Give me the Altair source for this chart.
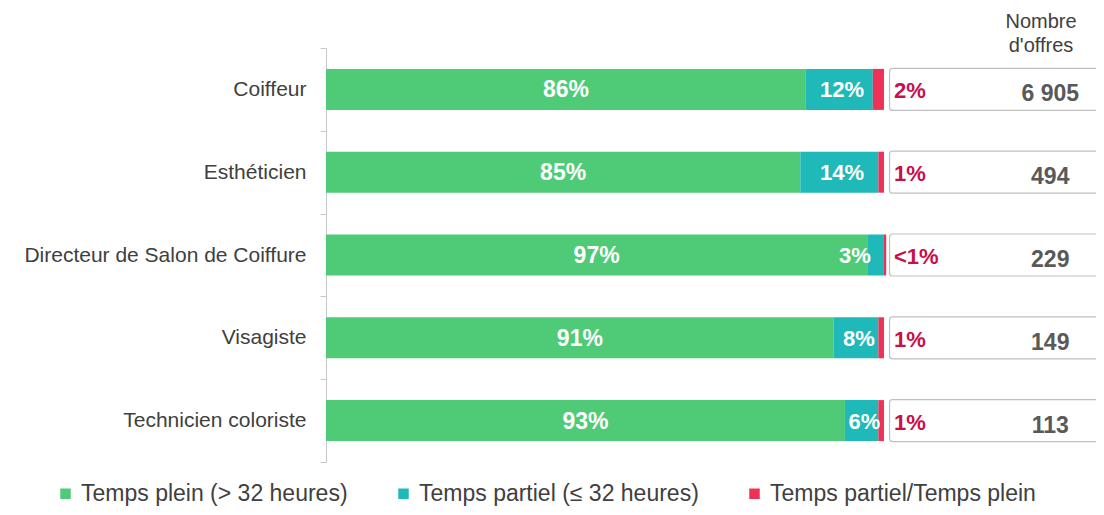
import altair as alt
import pandas as pd

categories = ["Coiffeur", "Esthéticien", "Directeur de Salon de Coiffure", "Visagiste", "Technicien coloriste"]
temps_plein = [86, 85, 97, 91, 93]
temps_partiel = [12, 14, 3, 8, 6]
partiel_plein = [2, 1, 0.4, 1, 1]
partiel_plein_labels = ["2%", "1%", "<1%", "1%", "1%"]
nb_offres = ["6 905", "494", "229", "149", "113"]
series = ["Temps plein (> 32 heures)", "Temps partiel (≤ 32 heures)", "Temps partiel/Temps plein"]
colors = ["#4fcb78", "#1fb9b9", "#ee3157"]

rows = []
for i, c in enumerate(categories):
    vals = [temps_plein[i], temps_partiel[i], partiel_plein[i]]
    start = 0
    for k, s in enumerate(series):
        rows.append({"cat": c, "serie": s, "order": k, "start": start, "end": start + vals[k],
                     "pct": vals[k]})
        start += vals[k]
df = pd.DataFrame(rows)

side = pd.DataFrame({"cat": categories, "red": partiel_plein_labels, "nb": nb_offres})

FONT = "Liberation Sans"
XMAX = 138
xs = alt.Scale(domain=[0, XMAX], nice=False, zero=True)
ys = alt.Scale(domain=categories, paddingInner=0, paddingOuter=0)
y_enc = alt.Y("cat:N", scale=ys, sort=categories, title=None,
              axis=alt.Axis(tickBand="extent", domainColor="#c8c8c8", tickColor="#c8c8c8",
                            tickSize=6, labelFontSize=21, labelColor="#404040",
                            labelFont=FONT, labelPadding=14, labelLimit=400))

bars = alt.Chart(df).mark_bar(size=41).encode(
    x=alt.X("start:Q", scale=xs, axis=None),
    x2="end:Q",
    y=y_enc,
    color=alt.Color("serie:N", scale=alt.Scale(domain=series, range=colors), sort=series,
                    legend=alt.Legend(title=None, orient="none", direction="horizontal",
                                      legendX=-272, legendY=434, symbolType="square",
                                      symbolSize=110, labelFontSize=23, labelColor="#404040",
                                      labelFont=FONT, columnPadding=44, labelOffset=4,
                                      symbolStrokeWidth=0, labelLimit=500)),
    order="order:Q",
)

green_lbl = alt.Chart(df).transform_filter(alt.datum.order == 0).transform_calculate(
    mid="(datum.start + datum.end) / 2", txt="datum.pct + '%'"
).mark_text(color="white", fontWeight="bold", fontSize=23, font=FONT, dy=1).encode(
    x=alt.X("mid:Q", scale=xs), y=alt.Y("cat:N", scale=ys, sort=categories), text="txt:N")

teal_lbl = alt.Chart(df).transform_filter(alt.datum.order == 1).transform_calculate(
    mid="datum.pct < 5 ? datum.end - 5.2 : (datum.start + datum.end) / 2 + 0.5", txt="datum.pct + '%'"
).mark_text(color="white", fontWeight="bold", fontSize=22, font=FONT, dy=1).encode(
    x=alt.X("mid:Q", scale=xs), y=alt.Y("cat:N", scale=ys, sort=categories), text="txt:N")

box = alt.Chart(side).transform_calculate(x1="101", x2=str(XMAX + 5)).mark_bar(
    size=42, fill="white", stroke="#c0c0c0", strokeWidth=1.2, cornerRadius=3, clip=True
).encode(x=alt.X("x1:Q", scale=xs), x2="x2:Q", y=alt.Y("cat:N", scale=ys, sort=categories))

red_lbl = alt.Chart(side).transform_calculate(xp="100").mark_text(
    align="left", dx=10, dy=2, color="#c8104a", fontWeight="bold", fontSize=22, font=FONT
).encode(x=alt.X("xp:Q", scale=xs), y=alt.Y("cat:N", scale=ys, sort=categories), text="red:N")

nb_lbl = alt.Chart(side).transform_calculate(xp="129.8").mark_text(
    align="center", dy=5, color="#595959", fontWeight="bold", fontSize=23, font=FONT
).encode(x=alt.X("xp:Q", scale=xs), y=alt.Y("cat:N", scale=ys, sort=categories), text="nb:N")

chart = alt.layer(bars, green_lbl, teal_lbl, box, red_lbl, nb_lbl).properties(
    width=770, height=414,
    title=alt.TitleParams(["Nombre", "d'offres"], anchor="end", align="center", dx=-55,
                          offset=-19, fontSize=20, fontWeight="normal", color="#404040",
                          font=FONT, lineHeight=24),
    padding={"left": 318, "top": 40, "right": 0, "bottom": 45},
    autosize=alt.AutoSizeParams(type="none"),
).configure_view(stroke=None)

chart.save("out.html", embed_options={"renderer": "svg", "actions": False})
